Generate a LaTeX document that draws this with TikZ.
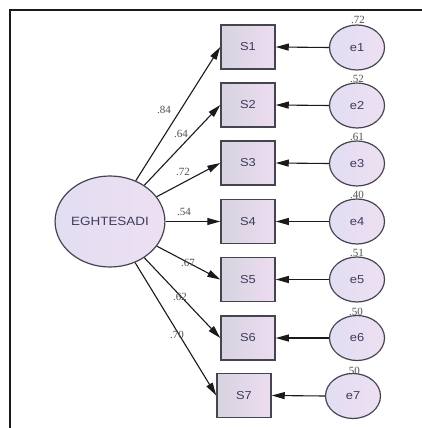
\documentclass[tikz,border=0pt]{standalone}
\usepackage{fontspec}
\newfontfamily\amosfont[FakeStretch=1.12]{Liberation Sans}
\newfontfamily\lblfont{Liberation Serif}
\usetikzlibrary{shapes.geometric,arrows.meta}
\definecolor{frameC}{HTML}{1A1A1A}
\definecolor{edgeC}{HTML}{45454F}
\definecolor{txtC}{HTML}{3C3C5A}
\definecolor{lblC}{HTML}{505050}
\definecolor{boxL}{HTML}{D6D3E0}
\definecolor{boxR}{HTML}{EDDCF0}
\definecolor{ellL}{HTML}{E2DEF2}
\definecolor{ellR}{HTML}{EEDFF2}
\tikzset{
  obs/.style={draw=edgeC, line width=1.5pt, left color=boxL, right color=boxR,
    minimum width=54pt, minimum height=44pt, inner sep=0pt,
    font=\amosfont\fontsize{11.5}{13}\selectfont, text=txtC},
  err/.style={ellipse, draw=edgeC, line width=1.2pt, left color=ellL, right color=ellR,
    minimum width=55pt, minimum height=45pt, inner sep=0pt,
    font=\amosfont\fontsize{11.5}{13}\selectfont, text=txtC},
  lat/.style={ellipse, draw=edgeC, line width=1.2pt, left color=ellL, right color=ellR,
    minimum width=107pt, minimum height=91pt, inner sep=0pt,
    font=\amosfont\fontsize{12}{14}\selectfont, text=txtC},
  path/.style={draw=frameC, line width=1.1pt, -{Triangle[length=13pt,width=7pt]}},
  coef/.style={font=\lblfont\fontsize{11}{13}\selectfont, text=lblC, inner sep=0pt},
  frameline/.style={draw=frameC, line width=1.8pt}
}
\begin{document}
\begin{tikzpicture}[x=1pt,y=-1pt]
\useasboundingbox (0,0) rectangle (422,428);
\fill[white] (0,0) rectangle (422,428);
\coordinate (fTL) at (9.7,10);
\coordinate (fTR) at (423,10);
\coordinate (fBL) at (9.7,429);
\draw[frameline] (fTR) -- (fTL) -- (fBL);

\node[lat] (E) at (110,221.5) {EGHTESADI};

\node[obs] (S1) at (248,47) {S1};
\node[obs] (S2) at (248,105) {S2};
\node[obs] (S3) at (248,163) {S3};
\node[obs] (S4) at (248,221.5) {S4};
\node[obs] (S5) at (248,279.5) {S5};
\node[obs] (S6) at (248,338) {S6};
\node[obs] (S7) at (244,395.5) {S7};

\node[err] (e1) at (357,47.5) {e1};
\node[err] (e2) at (357,105.5) {e2};
\node[err] (e3) at (357,163.5) {e3};
\node[err] (e4) at (357,221.5) {e4};
\node[err] (e5) at (357,279.5) {e5};
\node[err] (e6) at (357,338) {e6};
\node[err] (e7) at (353,396) {e7};

\foreach \i in {1,...,7}{
  \draw[path] (E) -- (S\i.west);
  \draw[path] (e\i.west) -- (S\i.east);
}

\node[coef] (c1) at (164,110) {.84};
\node[coef] (c2) at (181,133.5) {.64};
\node[coef] (c3) at (183,172) {.72};
\node[coef] (c4) at (184,212) {.54};
\node[coef] (c5) at (188,263) {.67};
\node[coef] (c6) at (180,297) {.62};
\node[coef] (c7) at (177,335) {.70};

\node[coef] (v1) at (358,20) {.72};
\node[coef] (v2) at (357,79) {.52};
\node[coef] (v3) at (357,137) {.61};
\node[coef] (v4) at (357,195) {.40};
\node[coef] (v5) at (357,253) {.51};
\node[coef] (v6) at (356,312) {.50};
\node[coef] (v7) at (353,371) {.50};
\end{tikzpicture}
\end{document}
